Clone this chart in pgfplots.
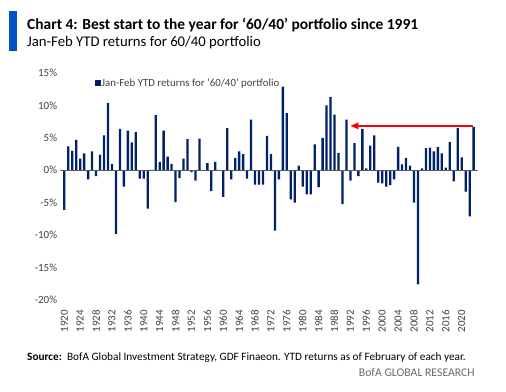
\documentclass[border=0pt]{standalone}
\usepackage{fontspec}
\setmainfont{Carlito}
\usepackage{pgfplots}
\usepackage{pgfplotstable}
\pgfplotsset{compat=1.18}
\usetikzlibrary{arrows.meta}
\definecolor{navy}{RGB}{1,33,105}
\definecolor{bofablue}{RGB}{0,83,194}
\definecolor{ticktxt}{RGB}{64,64,64}
\definecolor{srctxt}{RGB}{105,105,105}
\definecolor{zeroline}{RGB}{90,90,90}
\definecolor{arrowred}{RGB}{255,0,0}
\pgfplotstableread{
year val
1920 -6.1
1921 3.7
1922 3.0
1923 4.7
1924 1.8
1925 2.6
1926 -1.4
1927 2.9
1928 -0.9
1929 2.4
1930 5.4
1931 10.4
1932 1.0
1933 -9.8
1934 6.4
1935 -2.5
1936 6.1
1937 4.3
1938 5.9
1939 -1.3
1940 -1.3
1941 -5.9
1942 0.05
1943 8.5
1944 1.3
1945 6.1
1946 2.1
1947 1.0
1948 -4.9
1949 -1.2
1950 1.8
1951 4.8
1952 -0.3
1953 -1.6
1954 4.9
1955 0.0
1956 1.1
1957 -3.2
1958 1.3
1959 -0.1
1960 -4.1
1961 6.5
1962 -1.4
1963 1.9
1964 2.9
1965 2.5
1966 -1.3
1967 7.8
1968 -2.2
1969 -2.2
1970 -2.2
1971 5.3
1972 2.5
1973 -9.3
1974 -1.4
1975 12.9
1976 8.8
1977 -4.5
1978 -5.0
1979 0.7
1980 -2.5
1981 -3.7
1982 -3.7
1983 4.0
1984 -2.6
1985 5.0
1986 10.0
1987 11.3
1988 8.6
1989 2.7
1990 -5.2
1991 7.8
1992 -1.6
1993 4.2
1994 -0.9
1995 6.4
1996 0.3
1997 3.8
1998 5.4
1999 -1.9
2000 -2.0
2001 -2.5
2002 -2.3
2003 -1.4
2004 3.6
2005 0.9
2006 1.9
2007 0.7
2008 -5.0
2009 -17.6
2010 0.3
2011 3.4
2012 3.5
2013 2.9
2014 3.6
2015 2.6
2016 0.4
2017 4.4
2018 -1.7
2019 6.5
2020 2.0
2021 -3.3
2022 -7.1
2023 6.7
}\datatable
\begin{document}
\begin{tikzpicture}
\useasboundingbox (0,0) rectangle (506bp,-392bp);
\fill[bofablue] (9bp,-11bp) rectangle (17bp,-51bp);
\node[anchor=base west, inner sep=0, font=\bfseries\fontsize{15.5}{18}\selectfont] at (27bp,-29.5bp) {Chart 4: Best start to the year for ‘60/40’ portfolio since 1991};
\node[anchor=base west, inner sep=0, font=\fontsize{14.8}{16}\selectfont] at (27bp,-46bp) {Jan-Feb YTD returns for 60/40 portfolio};
\node[anchor=base west, inner sep=0, font=\fontsize{11.3}{13}\selectfont] at (27bp,-360bp) {\textbf{Source:}\ \ BofA Global Investment Strategy, GDF Finaeon. YTD returns as of February of each year.};
\node[anchor=base east, inner sep=0, text=srctxt, font=\fontsize{11.8}{14}\selectfont] at (475bp,-376bp) {BofA GLOBAL RESEARCH};
\begin{axis}[
  at={(60.3bp,-300bp)}, anchor=south west,
  scale only axis, width=417.3bp, height=227bp,
  xmin=1919, xmax=2024, ymin=-20, ymax=15,
  axis line style={draw=none},
  major tick length=0,
  ytick={-20,-15,-10,-5,0,5,10,15},
  yticklabels={-20\%,-15\%,-10\%,-5\%,0\%,5\%,10\%,15\%},
  xtick={1920,1924,...,2020},
  xticklabels={1920,1924,1928,1932,1936,1940,1944,1948,1952,1956,1960,1964,1968,1972,1976,1980,1984,1988,1992,1996,2000,2004,2008,2012,2016,2020},
  ticklabel style={text=ticktxt, font=\fontsize{11}{12}\selectfont},
  xticklabel style={rotate=90, anchor=east, inner sep=0pt},
  xticklabel shift=10bp,
  yticklabel style={inner sep=0pt},
  yticklabel shift=3bp,
  legend style={at={(0.0815,0.955)}, anchor=west, draw=none, fill=none, inner sep=0pt,
    font=\fontsize{10.9}{12}\selectfont, text=ticktxt, nodes={inner sep=0.8bp}},
  legend cell align=left,
]
\addplot[ybar, bar width=2.3bp, fill=navy, draw=none,
  legend image code/.code={\fill[navy] (0bp,-3.2bp) rectangle (6.4bp,3.2bp);}]
  table[x=year, y=val] {\datatable};
\addlegendentry{Jan-Feb YTD returns for '60/40' portfolio}
\addplot[zeroline, line width=1bp, forget plot] coordinates {(1919,0) (2024,0)};
\addplot[color=arrowred, line width=1.3bp, forget plot, mark=none,
  -{Triangle[length=8bp,width=6.5bp,color=arrowred]}]
  coordinates {(2022.8,6.85) (1992.0,6.85)};
\end{axis}
\end{tikzpicture}
\end{document}
